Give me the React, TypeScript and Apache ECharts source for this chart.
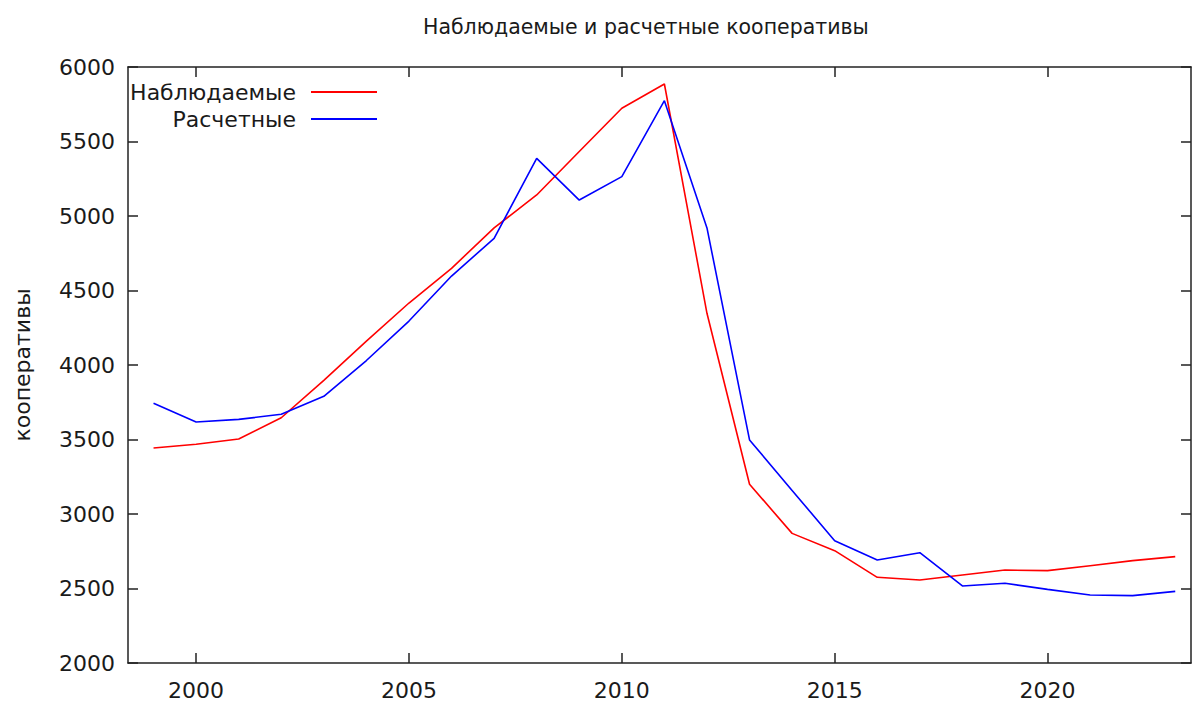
import React, { useEffect, useRef } from "react";
import * as echarts from "echarts";

const years = [1999, 2000, 2001, 2002, 2003, 2004, 2005, 2006, 2007, 2008, 2009, 2010, 2011, 2012, 2013, 2014, 2015, 2016, 2017, 2018, 2019, 2020, 2021, 2022, 2023];
const observed = [3443, 3468, 3503, 3646, 3897, 4160, 4416, 4649, 4920, 5141, 5433, 5723, 5886, 4347, 3200, 2870, 2754, 2575, 2557, 2591, 2624, 2620, 2653, 2687, 2714];
const estimated = [3743, 3617, 3635, 3669, 3790, 4030, 4295, 4597, 4850, 5387, 5107, 5264, 5774, 4920, 3497, 3158, 2821, 2691, 2740, 2517, 2535, 2494, 2456, 2452, 2481];
const xTicks = [2000, 2005, 2010, 2015, 2020];
const seriesNames = ["Наблюдаемые", "Расчетные"];
const titleText = "Наблюдаемые и расчетные кооперативы";
const yName = "кооперативы";

const FONT = "DejaVu Sans";
const TXT = "#1a1a1a";
const AX = "#222222";
const FS = 22;

export default function App() {
  const ref = useRef<HTMLDivElement>(null);
  useEffect(() => {
    if (!ref.current) return;
    const chart = echarts.init(ref.current, undefined, { renderer: "svg" });
    const axisLine = { show: true, lineStyle: { color: AX, width: 1.5 } };
    const xCommon = {
      type: "value" as const,
      min: 1998.4,
      max: 2023.37,
      splitLine: { show: false },
      axisLine,
    };
    const yCommon = {
      type: "value" as const,
      min: 2000,
      max: 6000,
      interval: 500,
      splitLine: { show: false },
      axisLine,
    };
    const legendBase = {
      orient: "vertical" as const,
      align: "right" as const,
      right: 1192 - 378,
      padding: 0,
      itemWidth: 66,
      itemHeight: 14,
      selectedMode: false,
      itemStyle: { opacity: 0 },
      textStyle: { fontFamily: FONT, fontSize: FS, color: TXT, padding: [0, 10, 0, 0] },
    };
    chart.setOption({
      animation: false,
      backgroundColor: "#ffffff",
      textStyle: { fontFamily: FONT },
      title: {
        text: titleText,
        left: 423,
        top: 16,
        padding: 0,
        textStyle: { fontFamily: FONT, fontSize: 20.5, fontWeight: "normal", color: TXT },
      },
      legend: [
        { ...legendBase, data: [seriesNames[0]], top: 81 },
        { ...legendBase, data: [seriesNames[1]], top: 108 },
      ],
      grid: {
        left: 128,
        right: 1,
        top: 67,
        bottom: 39,
        containLabel: false,
        outerBoundsMode: "none",
      },
      xAxis: [
        {
          ...xCommon,
          position: "bottom",
          axisTick: { show: true, inside: true, length: 10, customValues: xTicks, lineStyle: { color: AX, width: 1.5 } },
          axisLabel: {
            show: true,
            customValues: xTicks,
            margin: 16,
            fontSize: FS,
            color: TXT,
            fontFamily: FONT,
            formatter: (v: number) => String(v),
          },
        },
        {
          ...xCommon,
          position: "top",
          axisTick: { show: true, inside: true, length: 10, customValues: xTicks, lineStyle: { color: AX, width: 1.5 } },
          axisLabel: { show: false },
        },
      ],
      yAxis: [
        {
          ...yCommon,
          position: "left",
          name: yName,
          nameLocation: "middle",
          nameRotate: 90,
          nameGap: 95,
          nameTextStyle: { fontFamily: FONT, fontSize: FS, color: TXT },
          axisTick: { show: true, inside: true, length: 10, lineStyle: { color: AX, width: 1.5 } },
          axisLabel: {
            show: true,
            margin: 13,
            fontSize: FS,
            color: TXT,
            fontFamily: FONT,
            formatter: (v: number) => String(v),
          },
        },
        {
          ...yCommon,
          position: "right",
          axisTick: { show: true, inside: true, length: 10, lineStyle: { color: AX, width: 1.5 } },
          axisLabel: { show: false },
        },
      ],
      series: [
        {
          name: seriesNames[0],
          type: "line",
          xAxisIndex: 0,
          yAxisIndex: 0,
          symbol: "none",
          showSymbol: false,
          data: years.map((y, i) => [y, observed[i]]),
          lineStyle: { color: "#ff0000", width: 1.6 },
          itemStyle: { color: "#ff0000" },
        },
        {
          name: seriesNames[1],
          type: "line",
          xAxisIndex: 0,
          yAxisIndex: 0,
          symbol: "none",
          showSymbol: false,
          data: years.map((y, i) => [y, estimated[i]]),
          lineStyle: { color: "#0000ff", width: 1.6 },
          itemStyle: { color: "#0000ff" },
        },
      ],
    });
    return () => chart.dispose();
  }, []);
  return (
    <div
      ref={ref}
      style={{ position: "absolute", left: 0, top: 0, width: 1192, height: 702, background: "#fff" }}
    />
  );
}
